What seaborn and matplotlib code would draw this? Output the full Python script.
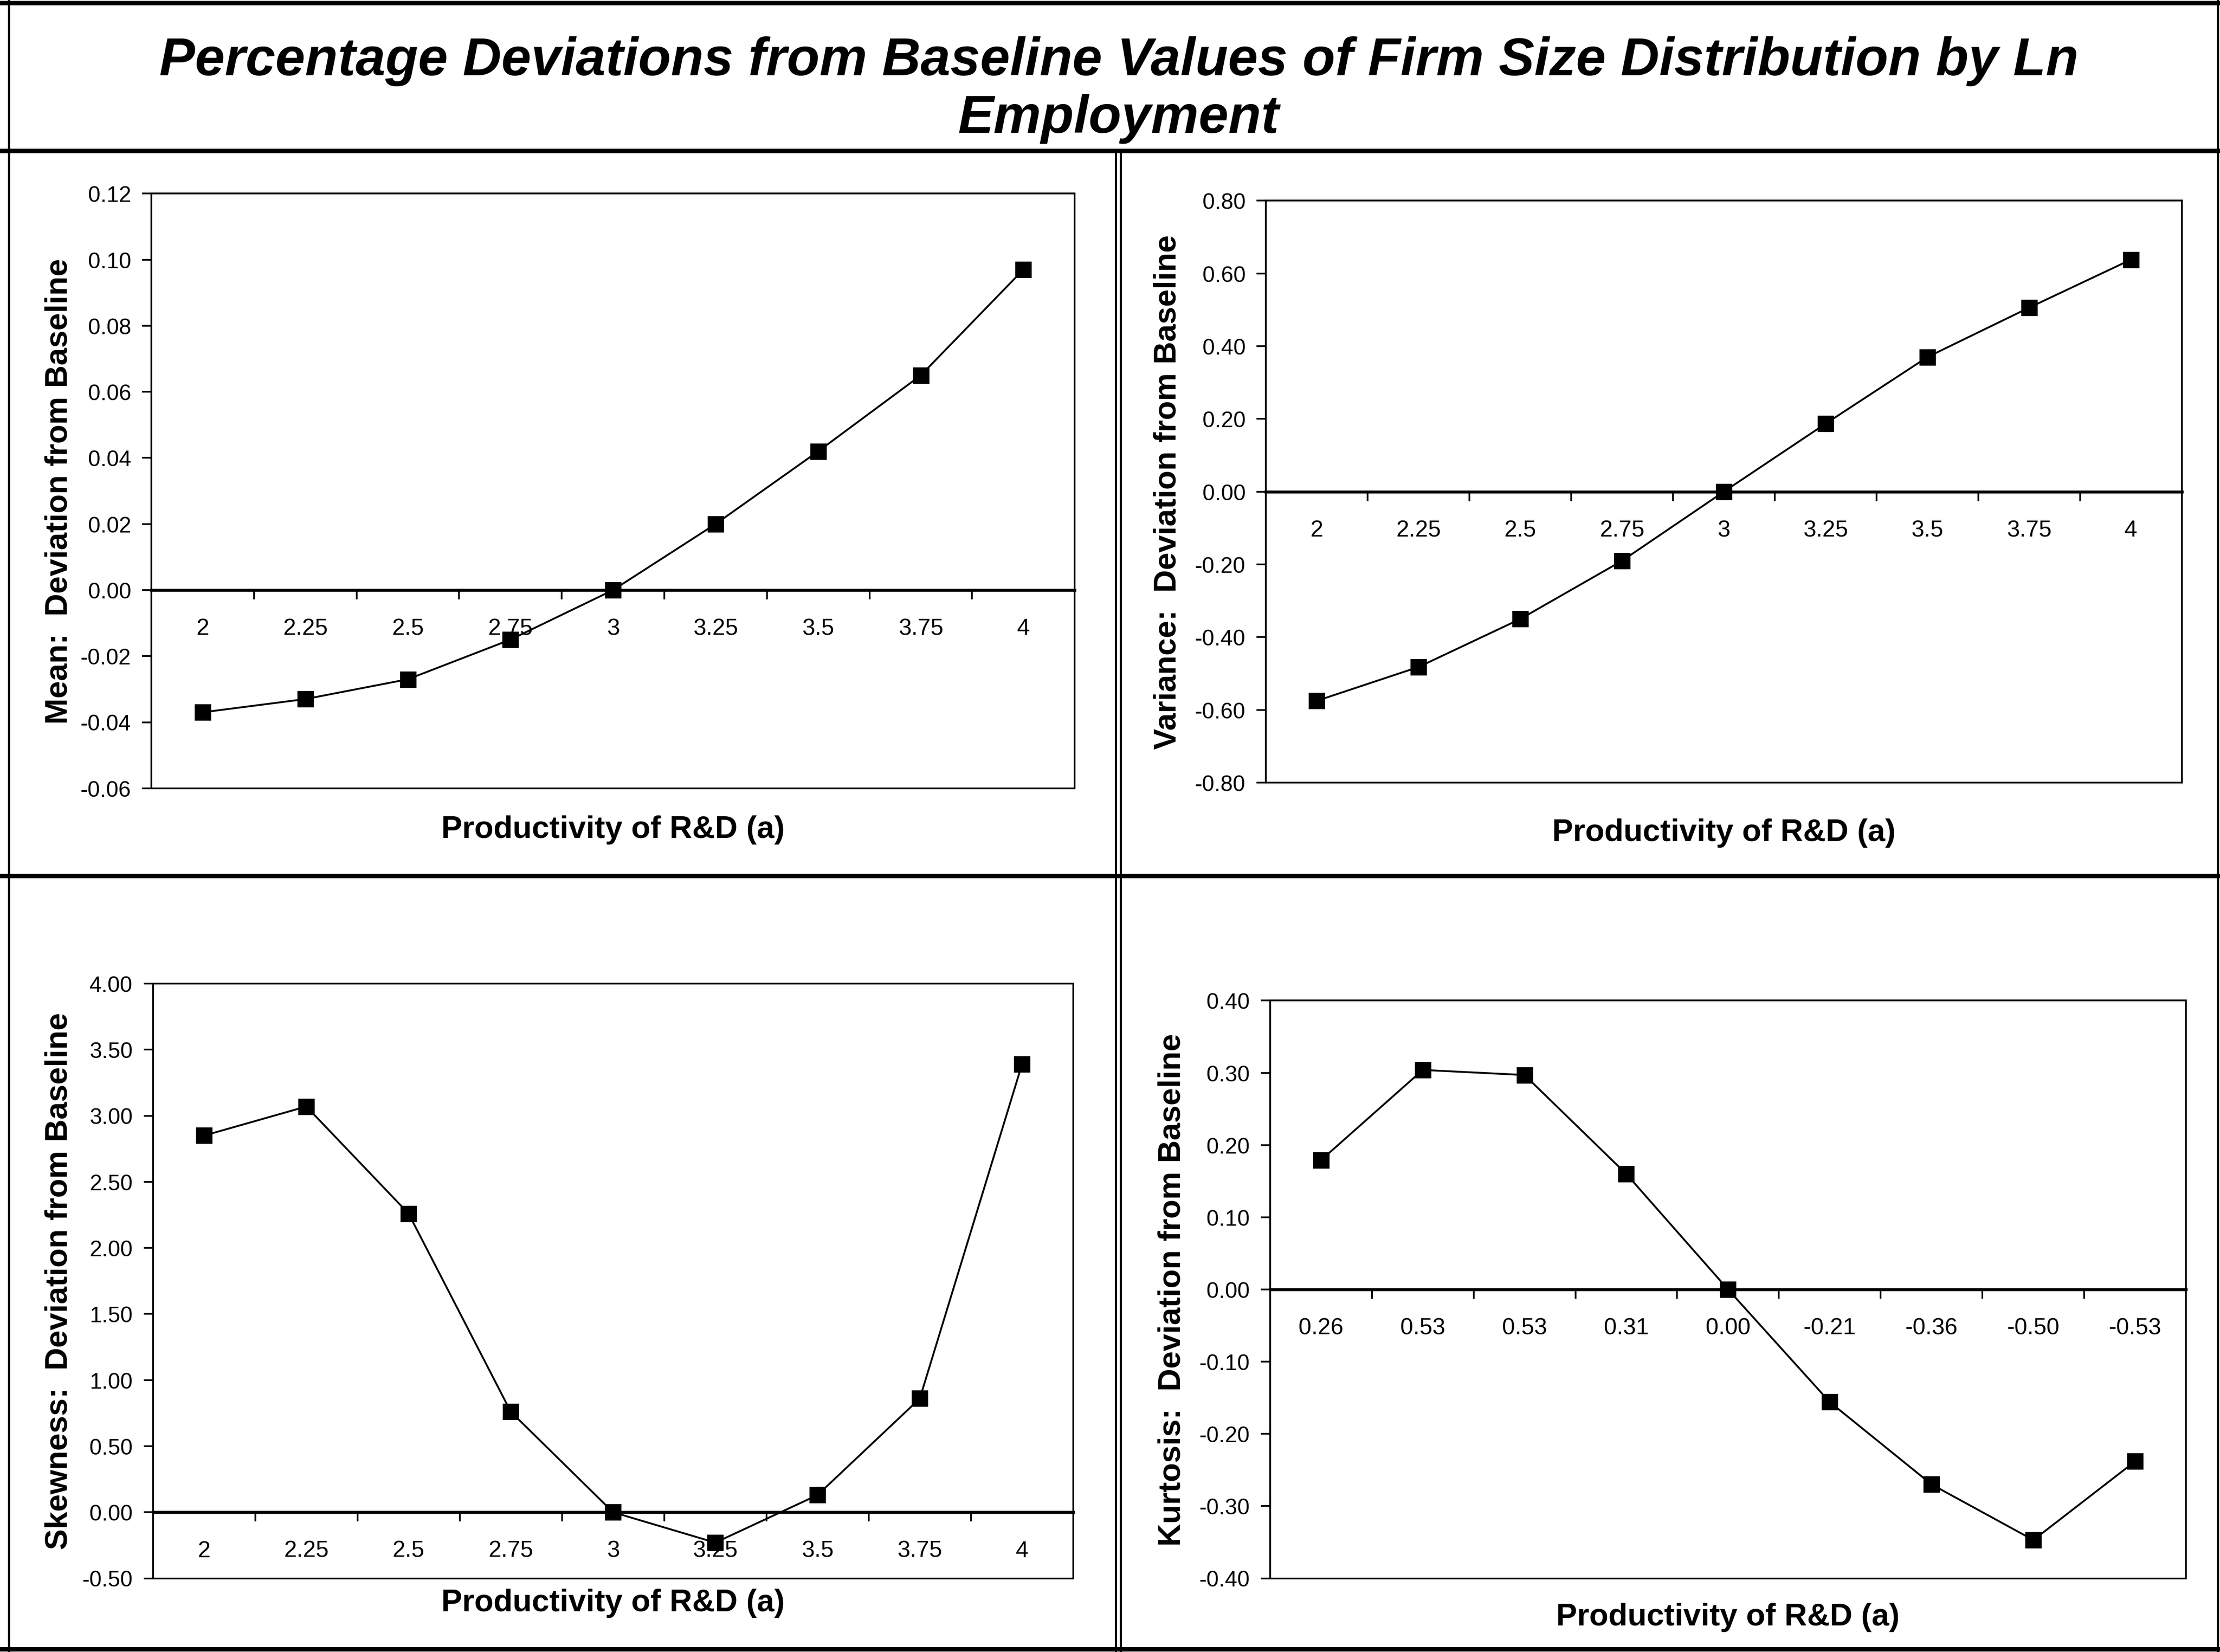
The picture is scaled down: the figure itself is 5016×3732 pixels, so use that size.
import matplotlib.pyplot as plt
import matplotlib.ticker as mticker
import numpy as np
import seaborn as sns
from matplotlib.lines import Line2D
from matplotlib.patches import Rectangle

# category labels on the x axis
a_values = ['2', '2.25', '2.5', '2.75', '3', '3.25', '3.5', '3.75', '4']
kurt_labels = ['0.26', '0.53', '0.53', '0.31', '0.00', '-0.21', '-0.36', '-0.50', '-0.53']

# deviations from baseline
mean_dev = [-0.037, -0.033, -0.027, -0.015, 0.0, 0.020, 0.042, 0.065, 0.097]
var_dev = [-0.575, -0.482, -0.350, -0.190, 0.0, 0.187, 0.370, 0.506, 0.638]
skew_dev = [2.85, 3.07, 2.26, 0.76, 0.0, -0.23, 0.13, 0.86, 3.39]
kurt_dev = [0.179, 0.304, 0.297, 0.160, 0.0, -0.156, -0.270, -0.347, -0.238]

title = ('Percentage Deviations from Baseline Values of Firm Size Distribution by Ln\n'
         'Employment')
xlab = 'Productivity of R&D (a)'

sns.set_theme(style='white')
plt.rcParams['font.family'] = ['Liberation Sans', 'DejaVu Sans']
plt.rcParams['text.color'] = 'black'
plt.rcParams['axes.labelcolor'] = 'black'

fig = plt.figure(figsize=(16.72, 12.443), dpi=300)

panels = [
    dict(rect=[0.0682, 0.5227, 0.4159, 0.3599], y=mean_dev, labels=a_values,
         ylim=(-0.06, 0.12), step=0.02, ylabel='Mean:  Deviation from Baseline',
         ylx=-0.084, xly=-0.045),
    dict(rect=[0.5702, 0.5261, 0.4126, 0.3522], y=var_dev, labels=a_values,
         ylim=(-0.80, 0.80), step=0.20, ylabel='Variance:  Deviation from Baseline',
         ylx=-0.091, xly=-0.061),
    dict(rect=[0.0689, 0.0446, 0.4145, 0.3599], y=skew_dev, labels=a_values,
         ylim=(-0.50, 4.00), step=0.50, ylabel='Skewness:  Deviation from Baseline',
         ylx=-0.086, xly=-0.017),
    dict(rect=[0.5721, 0.0446, 0.4126, 0.3496], y=kurt_dev, labels=kurt_labels,
         ylim=(-0.40, 0.40), step=0.10, ylabel='Kurtosis:  Deviation from Baseline',
         ylx=-0.091, xly=-0.042),
]

for p in panels:
    ax = fig.add_axes(p['rect'])
    pos = np.arange(len(p['labels']))
    sns.lineplot(x=pos, y=p['y'], ax=ax, color='black', linewidth=1.0,
                 marker='s', markersize=8, markeredgecolor='black',
                 markerfacecolor='black')
    ax.set_xlim(-0.5, len(pos) - 0.5)
    ax.set_ylim(*p['ylim'])

    # y axis
    ax.yaxis.set_major_locator(mticker.MultipleLocator(p['step']))
    ax.yaxis.set_major_formatter(mticker.FormatStrFormatter('%.2f'))
    ax.tick_params(axis='y', direction='out', length=5, width=0.9, pad=6,
                   labelsize=12, left=True, colors='black')

    # x axis sits on the zero line, category ticks between points
    ax.spines['bottom'].set_position(('data', 0))
    ax.spines['bottom'].set_linewidth(1.6)
    ax.set_xticks(pos)
    ax.set_xticklabels(p['labels'])
    ax.set_xticks(pos[:-1] + 0.5, minor=True)
    ax.tick_params(axis='x', which='major', length=0, pad=15, labelsize=12.5,
                   colors='black')
    ax.tick_params(axis='x', which='minor', direction='out', length=5,
                   width=0.9, bottom=True, colors='black')

    for side in ['top', 'left', 'right']:
        ax.spines[side].set_linewidth(0.9)
        ax.spines[side].set_color('black')
    ax.spines['bottom'].set_color('black')
    ax.add_patch(Rectangle((0, 0), 1, 1, transform=ax.transAxes, fill=False,
                           edgecolor='black', linewidth=0.9, clip_on=False))

    ax.set_ylabel(p['ylabel'], fontsize=17, fontweight='bold', color='black')
    ax.yaxis.set_label_coords(p['ylx'], 0.5)
    ax.set_xlabel(xlab, fontsize=17, fontweight='bold', color='black')
    ax.xaxis.set_label_coords(0.5, p['xly'])
    ax.grid(False)

fig.text(0.504, 0.9455, title, ha='center', va='center', fontsize=29,
         fontweight='bold', fontstyle='italic', linespacing=1.2,
         multialignment='center', color='black')

# frame around the whole sheet and the panel dividers
frame_lines = [
    ([0.0, 1.0], [0.998, 0.998], 2.4),
    ([0.0, 1.0], [0.9083, 0.9083], 2.4),
    ([0.0, 1.0], [0.4696, 0.4696], 2.4),
    ([0.0, 1.0], [0.0015, 0.0015], 2.4),
    ([0.004, 0.004], [0.0, 1.0], 1.2),
    ([0.999, 0.999], [0.0, 1.0], 1.2),
    ([0.5026, 0.5026], [0.0, 0.9083], 1.2),
    ([0.5047, 0.5047], [0.0, 0.9083], 1.2),
]
for xs, ys, lw in frame_lines:
    fig.add_artist(Line2D(xs, ys, transform=fig.transFigure, color='black',
                          linewidth=lw))

fig.savefig('out.png', dpi=300, facecolor='white')
